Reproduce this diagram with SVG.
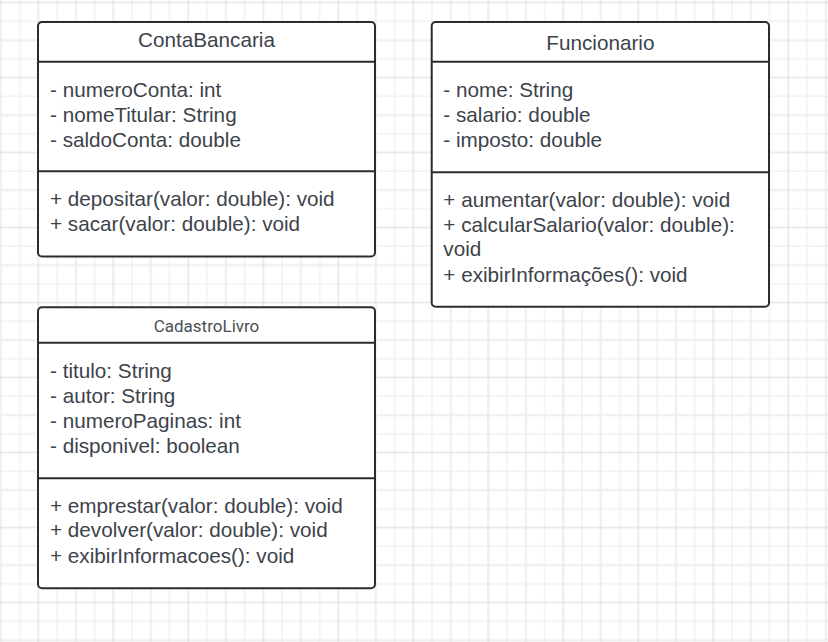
<svg xmlns="http://www.w3.org/2000/svg" width="828" height="642" viewBox="0 0 828 642">
<defs>
<style>
.box{fill:#ffffff;stroke:#282c33;stroke-width:2}
.div{stroke:#282c33;stroke-width:2}
.t{font-family:"Liberation Sans",Arial,sans-serif;font-size:20.7px;fill:#3d434b}
.title{font-family:"Liberation Sans",Arial,sans-serif;font-size:20.7px;fill:#3d434b;text-anchor:middle}
.title2{font-family:Roboto,"Liberation Sans",sans-serif;font-size:17px;fill:#4a4f55;text-anchor:middle}
</style>
<pattern id="grid" patternUnits="userSpaceOnUse" x="-8.575" y="30.625" width="75" height="75">
<g fill="none">
<path d="M9.375 0V75M0 9.375H75" stroke="#ededed" stroke-width="2"/>
<path d="M28.125 0V75M65.625 0V75M0 28.125H75M0 65.625H75" stroke="#ebebeb" stroke-width="1"/>
<path d="M46.875 0V75M0 46.875H75" stroke="#d9d9d9" stroke-width="1"/>
</g>
</pattern>
</defs>
<rect width="828" height="642" fill="#ffffff"/>
<rect width="828" height="642" fill="url(#grid)"/>
<g id="connectors"></g>
<g id="ContaBancaria">
<rect class="box" x="38" y="22" width="337" height="234.5" rx="4"/>
<line class="div" x1="38" y1="61.7" x2="375" y2="61.7"/>
<line class="div" x1="38" y1="171.3" x2="375" y2="171.3"/>
<text class="title" x="206.5" y="46.7">ContaBancaria</text>
<text class="t" x="50" y="96.7">- numeroConta: int</text>
<text class="t" x="50" y="121.7">- nomeTitular: String</text>
<text class="t" x="50" y="146.5">- saldoConta: double</text>
<text class="t" x="50" y="206">+ depositar(valor: double): void</text>
<text class="t" x="50" y="231">+ sacar(valor: double): void</text>
</g>
<g id="Funcionario">
<rect class="box" x="431.7" y="22" width="337.3" height="284.7" rx="4"/>
<line class="div" x1="431.7" y1="61.7" x2="769" y2="61.7"/>
<line class="div" x1="431.7" y1="172.3" x2="769" y2="172.3"/>
<text class="title" x="600.4" y="50">Funcionario</text>
<text class="t" x="443.3" y="97.3">- nome: String</text>
<text class="t" x="443.3" y="121.7">- salario: double</text>
<text class="t" x="443.3" y="146.7">- imposto: double</text>
<text class="t" x="443.3" y="206.7">+ aumentar(valor: double): void</text>
<text class="t" x="443.3" y="231.7">+ calcularSalario(valor: double):</text>
<text class="t" x="443.3" y="256.3">void</text>
<text class="t" x="443.3" y="281.7">+ exibirInformações(): void</text>
</g>
<g id="CadastroLivro">
<rect class="box" x="38" y="307.3" width="337" height="281" rx="4"/>
<line class="div" x1="38" y1="342.7" x2="375" y2="342.7"/>
<line class="div" x1="38" y1="478.3" x2="375" y2="478.3"/>
<text class="title2" x="206.5" y="331.7">CadastroLivro</text>
<text class="t" x="50" y="378.3">- titulo: String</text>
<text class="t" x="50" y="403.3">- autor: String</text>
<text class="t" x="50" y="428.3">- numeroPaginas: int</text>
<text class="t" x="50" y="452.7">- disponivel: boolean</text>
<text class="t" x="50" y="512.7">+ emprestar(valor: double): void</text>
<text class="t" x="50" y="537.3">+ devolver(valor: double): void</text>
<text class="t" x="50" y="562.7">+ exibirInformacoes(): void</text>
</g>
</svg>
